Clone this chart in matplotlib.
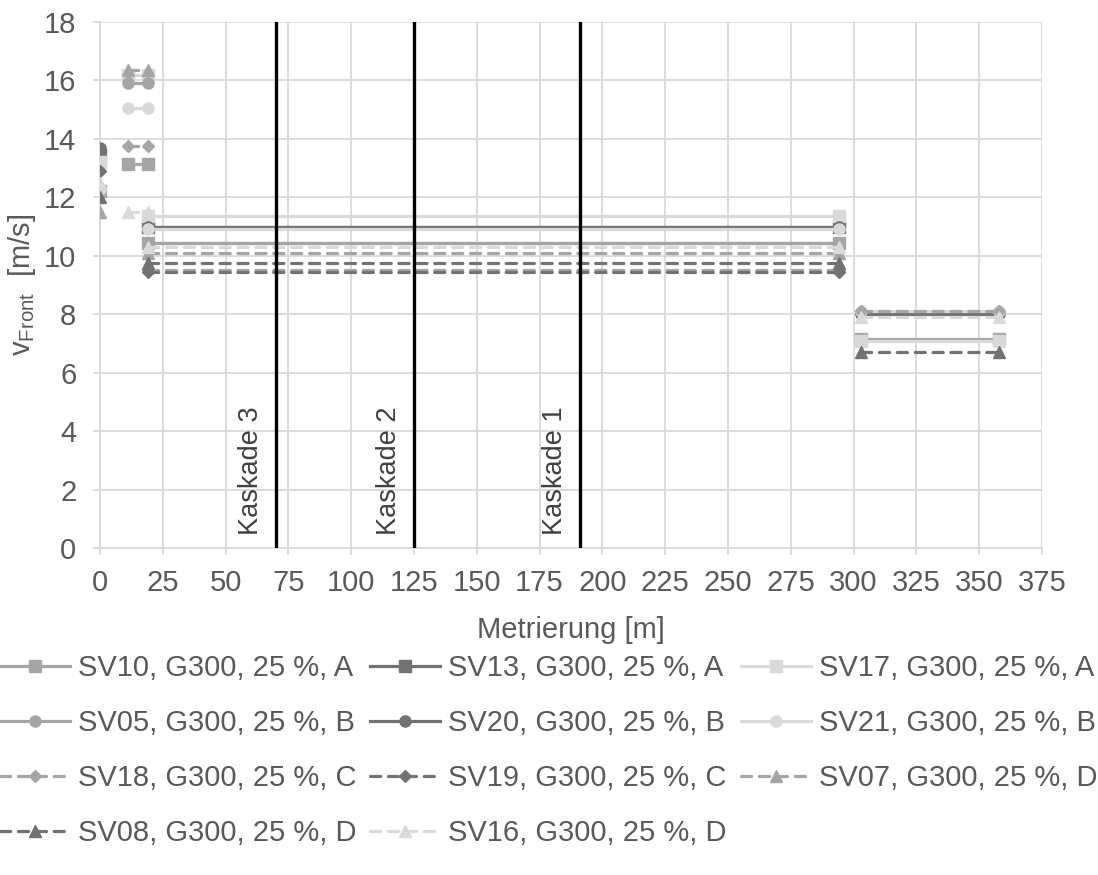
import numpy as np
import matplotlib
matplotlib.use("Agg")
import matplotlib.pyplot as plt

plt.rcParams['font.family'] = ['Liberation Sans', 'DejaVu Sans']
plt.rcParams['mathtext.fontset'] = 'custom'
plt.rcParams['mathtext.rm'] = 'Liberation Sans'
plt.rcParams['mathtext.it'] = 'Liberation Sans:italic'

# ─── Daten ────────────────────────────────────────────────
# Abschnitte: Start (x=0), kurzes Stück, langes Stück, Endstück
seg_start = [0]
seg_short = [11, 19]
seg_long = [19, 294]
seg_end = [303, 358]

names = ["SV10, G300, 25 %, A", "SV13, G300, 25 %, A", "SV17, G300, 25 %, A",
         "SV05, G300, 25 %, B", "SV20, G300, 25 %, B", "SV21, G300, 25 %, B",
         "SV18, G300, 25 %, C", "SV19, G300, 25 %, C", "SV07, G300, 25 %, D",
         "SV08, G300, 25 %, D", "SV16, G300, 25 %, D"]

v_start = [12.2, 13.45, 13.2, np.nan, 13.7, 12.3, np.nan, 12.9, 11.5, 12.0, 12.5]
v_short = [13.15, np.nan, 16.2, 15.9, np.nan, 15.05, 13.75, np.nan, 16.35, np.nan, 11.5]
v_long = [10.45, 11.0, 11.35, 10.45, 11.0, 10.9, 9.5, 9.45, 10.1, 9.75, 10.3]
v_end = [7.15, np.nan, 7.1, np.nan, 8.0, 8.1, 8.1, np.nan, np.nan, 6.7, 7.9]

cascade_x = [70, 125, 191]
cascade_names = ["Kaskade 3", "Kaskade 2", "Kaskade 1"]

# Stil je Serie
MID, DARK, LIGHT = '#a5a5a5', '#727272', '#d9d9d9'
colors = [MID, DARK, LIGHT, MID, DARK, LIGHT, MID, DARK, MID, DARK, LIGHT]
markers = ['s', 's', 's', 'o', 'o', 'o', 'D', 'D', '^', '^', '^']
styles = ['-', '-', '-', '-', '-', '-', '--', '--', '--', '--', '--']

FS = 21
GRID = '#d9d9d9'

fig = plt.figure(figsize=(10.98, 8.75), dpi=100)
ax = fig.add_axes([0.091, 0.3737, 0.858, 0.6012])

handles = {}
for i, name in enumerate(names):
    xs = seg_start + [np.nan] + seg_short + [np.nan] + seg_long + [np.nan] + seg_end
    ys = [v_start[i], np.nan, v_short[i], v_short[i], np.nan,
          v_long[i], v_long[i], np.nan, v_end[i], v_end[i]]
    ms = 6.5 if markers[i] == 'D' else 8
    ln, = ax.plot(xs, ys, color=colors[i], marker=markers[i], ls=styles[i],
                  lw=2.3, ms=ms, mec=colors[i], mfc=colors[i],
                  label=name, zorder=3 + i * 0.01)
    if styles[i] == '--':
        ln.set_dashes((3.2, 2.4))
        ln.set_dash_capstyle('round')
    handles[name] = ln

for cx, cn in zip(cascade_x, cascade_names):
    ax.axvline(cx, color='black', lw=2.4, zorder=5)
    ax.annotate(cn, xy=(cx, 0.45), xytext=(-18, 0), textcoords='offset points',
                rotation=90, ha='center', va='bottom', fontsize=19.5,
                color='#404040', zorder=6)

ax.set_xlim(0, 375)
ax.set_ylim(0, 18)
ax.set_xticks(np.arange(0, 376, 25))
ax.set_yticks(np.arange(0, 19, 2))
ax.grid(True, color=GRID, lw=1.3, zorder=0)
ax.set_axisbelow(True)
for side in ['top', 'right']:
    ax.spines[side].set_visible(False)
for side in ['left', 'bottom']:
    ax.spines[side].set_color(GRID)
    ax.spines[side].set_linewidth(1.3)
ax.tick_params(axis='both', direction='out', length=5, width=1.3, color=GRID,
               labelsize=FS, labelcolor='#595959')
ax.tick_params(axis='x', pad=10)
ax.tick_params(axis='y', pad=12)
ax.set_xlabel("Metrierung [m]", fontsize=FS, color='#595959', labelpad=14)
ax.set_ylabel(r"v$_{\mathrm{Front}}$  [m/s]", fontsize=FS, color='#595959', labelpad=4)

# Legende zeilenweise wie im Original
order = [0, 3, 6, 9, 1, 4, 7, 10, 2, 5, 8]
leg = fig.legend([handles[names[k]] for k in order], [names[k] for k in order],
                 loc='upper left', bbox_to_anchor=(0.0, 0.252), ncol=3,
                 frameon=False, fontsize=FS, handlelength=2.4,
                 handletextpad=0.27, columnspacing=0.48, labelspacing=0.92,
                 borderaxespad=0, borderpad=0)
for t in leg.get_texts():
    t.set_color('#595959')

fig.savefig("out.png", dpi=100)
